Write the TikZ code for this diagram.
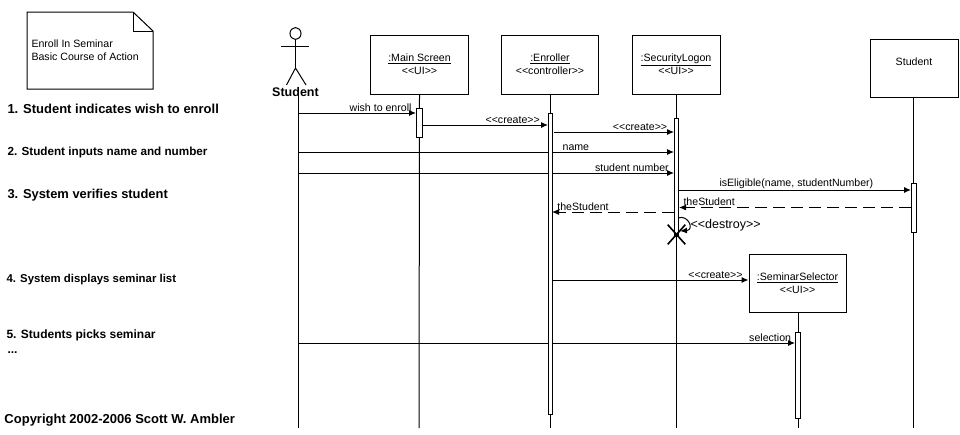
\documentclass[tikz,border=0pt]{standalone}
\usepackage{fontspec}
\setmainfont{Liberation Sans}
\usetikzlibrary{arrows.meta,shapes.geometric,shapes.misc}

\tikzset{
	small/.style={font=\fontsize{10.6}{13}\selectfont},
	objbox/.style={shape=rectangle,draw=black,small,align=center,inner sep=0pt},
	actbar/.style={shape=rectangle,draw=black,fill=white,inner sep=0pt},
	stepnote/.style={anchor=west,inner sep=0pt,font=\fontsize{#1}{14}\bfseries\selectfont},
	msg/.style={-{Latex[length=7pt,width=6pt]}},
	reply/.style={msg,dash pattern=on 12pt off 6pt},
	msglabel/.style={above,small,inner sep=1pt},
}

\begin{document}
\begin{tikzpicture}[x=1pt,y=-1pt,line width=1pt]
	\useasboundingbox (0,0) rectangle (960,434);

	% note
	\draw (27,12) -- (133,12) -- (153,31) -- (153,89) -- (27,89) -- cycle;
	\draw (133,12) -- (133,31) -- (153,31);
	\node[small,anchor=west,align=left,inner sep=0pt] (note) at (31,50.5) {Enroll In Seminar\\Basic Course of Action};

	% steps
	\node[stepnote=13] (s1) at (7,108.5) {1. Student indicates wish to enroll};
	\node[stepnote=11.7] (s2) at (7,152) {2. Student inputs name and number};
	\node[stepnote=12.9] (s3) at (7,195) {3. System verifies student};
	\node[stepnote=11.4] (s4) at (6,279.5) {4. System displays seminar list};
	\node[stepnote=12] (s5) at (6,335.5) {5. Students picks seminar};
	\node[stepnote=12] (s6) at (7,353) {...};
	\node[stepnote=13] (copy) at (4,420.5) {Copyright 2002-2006 Scott W. Ambler};

	% actor
	\node[shape=ellipse,draw=black,inner sep=0pt,minimum width=11,minimum height=12] (head) at (295.5,33.5) {};
	\coordinate (hip) at (295.5,68);
	\coordinate (armL) at (281,46);
	\coordinate (armR) at (309,46);
	\coordinate (legL) at (286.5,85);
	\coordinate (legR) at (306,85);
	\draw (head.south) -- (hip);
	\draw (armL) -- (armR);
	\draw (legL) -- (hip) -- (legR);
	\node[inner sep=0pt,font=\fontsize{12.5}{14}\bfseries\selectfont] (actor) at (295.5,92.5) {Student};

	% objects
	\node[objbox,minimum width=98,minimum height=59] (main) at (419.5,64.5) {\underline{:Main Screen}\\<{}<UI>{}>};
	\node[objbox,minimum width=97,minimum height=59] (enroller) at (550,64.5) {\underline{:Enroller}\\<{}<controller>{}>};
	\node[objbox,minimum width=88,minimum height=59] (logon) at (676,64.5) {\underline{:SecurityLogon}\\<{}<UI>{}>};
	\node[objbox,minimum width=88,minimum height=58] (student) at (914,68) {Student\\ \phantom{x}};
	\node[objbox,minimum width=97,minimum height=58] (selector) at (797.5,283) {\underline{:SeminarSelector}\\<{}<UI>{}>};

	% lifelines
	\coordinate (actorTop) at (298,91);
	\coordinate (actorEnd) at (298,428);
	\coordinate (mainEnd) at (419,428);
	\coordinate (enrollerEnd) at (550,428);
	\coordinate (logonEnd) at (676,428);
	\coordinate (studentEnd) at (913.5,428);
	\coordinate (selectorEnd) at (798,428);
	\draw (actorTop) -- (actorEnd);
	\draw (main.south) -- (mainEnd);
	\draw (enroller.south) -- (enrollerEnd);
	\draw (logon.south) -- (logonEnd);
	\draw (student.south -| studentEnd) -- (studentEnd);
	\draw (selector.south -| selectorEnd) -- (selectorEnd);

	% message ends
	\coordinate (a1) at (298,113);
	\coordinate (b1) at (416,113);
	\coordinate (a2) at (422,125);
	\coordinate (b2) at (548,125);
	\coordinate (a3) at (554,132);
	\coordinate (b3) at (674,132);
	\coordinate (a4) at (298,152);
	\coordinate (b4) at (674,152);
	\coordinate (a5) at (298,173);
	\coordinate (b5) at (674,173);
	\coordinate (a6) at (679,190);
	\coordinate (b6) at (911,190);
	\coordinate (a7) at (911,207.5);
	\coordinate (b7) at (679,207.5);
	\coordinate (a8) at (674,212);
	\coordinate (b8) at (552,212);
	\coordinate (a9) at (552,280);
	\coordinate (a10) at (298,343);
	\coordinate (b10) at (795,343);
	\coordinate (a11) at (678,218);
	\coordinate (b11) at (680,231);

	\path[msg] (a1) edge node[msglabel,pos=.70]{wish to enroll} (b1);
	\path[msg] (a2) edge node[msglabel,pos=.72]{<{}<create>{}>} (b2);
	\path[msg] (a3) edge node[msglabel,pos=.717]{<{}<create>{}>} (b3);
	\path[msg] (a4) edge node[msglabel,pos=.739]{name} (b4);
	\path[msg] (a5) edge node[msglabel,pos=.888]{student number} (b5);
	\path[msg] (a6) edge node[msglabel,pos=.506]{isEligible(name, studentNumber)} (b6);
	\path[reply] (a7) edge node[msglabel,pos=.87]{theStudent} (b7);
	\path[reply] (a8) edge node[msglabel,pos=.746]{theStudent} (b8);
	\path[msg] (a9) edge node[msglabel,pos=.832]{<{}<create>{}>} (selector.west |- a9);
	\path[msg] (a10) edge node[msglabel,pos=.95]{selection} (b10);
	\draw[msg] (a11) .. controls (688,214) and (695,230) .. (b11);
	\node[anchor=west,inner sep=0pt,font=\fontsize{12.5}{14}\selectfont] (destroy) at (690,225.5) {<{}<destroy>{}>};

	% activations
	\node[actbar,minimum width=6.5,minimum height=29] (mainBar) at (419.3,122.5) {};
	\node[actbar,minimum width=4,minimum height=301] (enrollerBar) at (550,263.5) {};
	\node[actbar,minimum width=4.5,minimum height=118] (logonBar) at (676.5,177) {};
	\node[actbar,minimum width=5.5,minimum height=49] (studentBar) at (914,207.5) {};
	\node[actbar,minimum width=5.5,minimum height=86] (selectorBar) at (798,375) {};
	\node[shape=cross out,draw=black,line width=1.6pt,inner sep=0pt,minimum width=16,minimum height=18] (kill) at (676.5,234.5) {};
\end{tikzpicture}
\end{document}
